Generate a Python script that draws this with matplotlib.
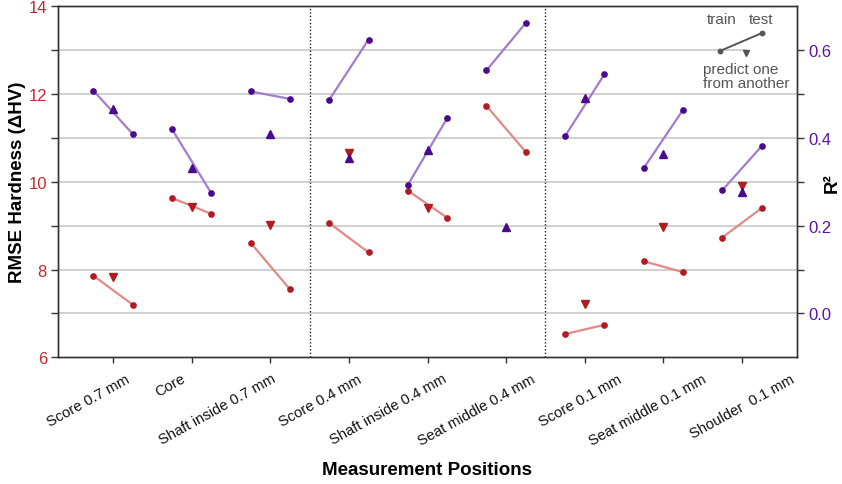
import numpy as np
import matplotlib
matplotlib.use("Agg")
import matplotlib.pyplot as plt
from matplotlib.transforms import ScaledTranslation

plt.rcParams["font.family"] = ["Liberation Sans", "DejaVu Sans"]

# ---- data -------------------------------------------------------------
categories = ["Score 0.7 mm", "Core", "Shaft inside 0.7 mm", "Score 0.4 mm",
              "Shaft inside 0.4 mm", "Seat middle 0.4 mm", "Score 0.1 mm",
              "Seat middle 0.1 mm", "Shoulder  0.1 mm"]

rmse_train = [7.86, 9.63, 8.61, 9.06, 9.80, 11.73, 6.53, 8.19, 8.73]
rmse_test = [7.20, 9.27, 7.55, 8.39, 9.18, 10.68, 6.74, 7.94, 9.40]
rmse_cross = [7.83, 9.42, 9.02, 10.66, 9.41, np.nan, 7.22, 8.98, 9.90]

r2_train = [0.508, 0.420, 0.506, 0.487, 0.293, 0.554, 0.404, 0.331, 0.281]
r2_test = [0.409, 0.274, 0.489, 0.624, 0.445, 0.662, 0.545, 0.464, 0.381]
r2_cross = [0.467, 0.332, 0.410, 0.354, 0.372, 0.196, 0.492, 0.363, 0.276]

group_breaks = [2.5, 5.5]

# ---- styling ----------------------------------------------------------
RED_DOT = "#b01c22"
RED_LINE = "#e08a88"
PURPLE_DOT = "#4a0a8c"
PURPLE_LINE = "#a27dcb"
RED_TXT = "#c8282e"
PURPLE_TXT = "#5c14a8"
GRID = "#c4c4c4"
SPINE = "#333333"
offset = 0.25

fig = plt.figure(figsize=(8.42, 4.85), dpi=100)
ax = fig.add_axes([58 / 842, 1 - 358.3 / 485, 739 / 842, 351 / 485])
ax2 = ax.twinx()

x = np.arange(len(categories))

# RMSE (left axis)
for xi, a, b in zip(x, rmse_train, rmse_test):
    ax.plot([xi - offset, xi + offset], [a, b], color=RED_LINE, lw=1.6,
            solid_capstyle="round", zorder=2)
ax.plot(x - offset, rmse_train, "o", color=RED_DOT, ms=3.8, zorder=3)
ax.plot(x + offset, rmse_test, "o", color=RED_DOT, ms=3.8, zorder=3)
ax.plot(x, rmse_cross, "v", color=RED_DOT, ms=6, zorder=3, linestyle="none")

# R2 (right axis)
for xi, a, b in zip(x, r2_train, r2_test):
    ax2.plot([xi - offset, xi + offset], [a, b], color=PURPLE_LINE, lw=1.6,
             solid_capstyle="round", zorder=2)
ax2.plot(x - offset, r2_train, "o", color=PURPLE_DOT, ms=3.8, zorder=3)
ax2.plot(x + offset, r2_test, "o", color=PURPLE_DOT, ms=3.8, zorder=3)
ax2.plot(x, r2_cross, "^", color=PURPLE_DOT, ms=6, zorder=3, linestyle="none")

for xb in group_breaks:
    ax.axvline(xb, color="#222222", lw=1.0, ls=(0, (1, 1.5)), zorder=1)

# axes ranges and ticks
ax.set_xlim(-0.7, 8.7)
ax.set_ylim(6, 14)
ax2.set_ylim(-0.1, 0.7)

ax.set_yticks([6, 8, 10, 12, 14])
ax.set_yticks([7, 9, 11, 13], minor=True)
ax2.set_yticks([0.0, 0.2, 0.4, 0.6])
ax2.set_yticklabels(["0.0", "0.2", "0.4", "0.6"])
ax2.set_yticks([0.1, 0.3, 0.5], minor=True)

ax.tick_params(axis="y", which="both", length=5, width=1, color=SPINE,
               labelcolor=RED_TXT, labelsize=12, pad=3)
ax2.tick_params(axis="y", which="both", length=5, width=1, color=SPINE,
                labelcolor=PURPLE_TXT, labelsize=12, pad=3)
ax.tick_params(axis="x", length=4, width=1, color=SPINE)

for a in (ax, ax2):
    for s in a.spines.values():
        s.set_color(SPINE)
        s.set_linewidth(1.0)

# horizontal guide lines; the top-right key area is left clear
key_left = 8.05
for yv in [7, 8, 9, 10, 11, 12, 13]:
    right = key_left if yv >= 12.5 else 8.7
    ax.plot([-0.7, right], [yv, yv], color=GRID, lw=1.1, zorder=0.5)

# category labels, rotated under each tick
ax.set_xticks(x)
ax.set_xticklabels([])
label_shift_px = [19, -4, 8, 15, 21, 31, 39, 45, 55]
for xi, lab, dx in zip(x, categories, label_shift_px):
    tr = ax.get_xaxis_transform() + ScaledTranslation(
        dx / 100, -14 / 100, fig.dpi_scale_trans)
    ax.text(xi, 0, lab, transform=tr, rotation=29, ha="right", va="top",
            fontsize=10.6, color="#111111")

ax.set_ylabel("RMSE Hardness (ΔHV)", fontsize=13.5, fontweight="bold")
ax.yaxis.set_label_coords(-0.043, 0.5)
ax2.set_ylabel("R²", fontsize=13.5, fontweight="bold")
ax2.yaxis.set_label_coords(1.036, 0.5)
fig.text(0.5075, 1 - 471 / 485, "Measurement Positions", ha="center",
         va="center", fontsize=13.5, fontweight="bold")

# key in the upper-right corner (axes-fraction coordinates)
def key_xy(px, py):
    return (px - 58) / 739, (358.3 - py) / 351

KEY = "#555555"
kt = ax2.transAxes
(lx1, ly1), (lx2, ly2) = key_xy(720, 52), key_xy(762, 34)
ax2.plot([lx1, lx2], [ly1, ly2], color=KEY, lw=1.4, transform=kt, zorder=9)
ax2.plot([lx1, lx2], [ly1, ly2], "o", color=KEY, ms=3.2, transform=kt,
         zorder=10)
tx, ty = key_xy(746, 54)
ax2.plot([tx], [ty], "v", color=KEY, ms=5, transform=kt, zorder=10)
for (px, py), s, ha in [((722, 20), "train", "center"),
                        ((761, 20), "test", "center"),
                        ((703, 70), "predict one", "left"),
                        ((703, 84), "from another", "left")]:
    tx, ty = key_xy(px, py)
    ax2.text(tx, ty, s, transform=kt, ha=ha, va="center", fontsize=11,
             color=KEY, zorder=11)

fig.savefig("out.png", dpi=100)
